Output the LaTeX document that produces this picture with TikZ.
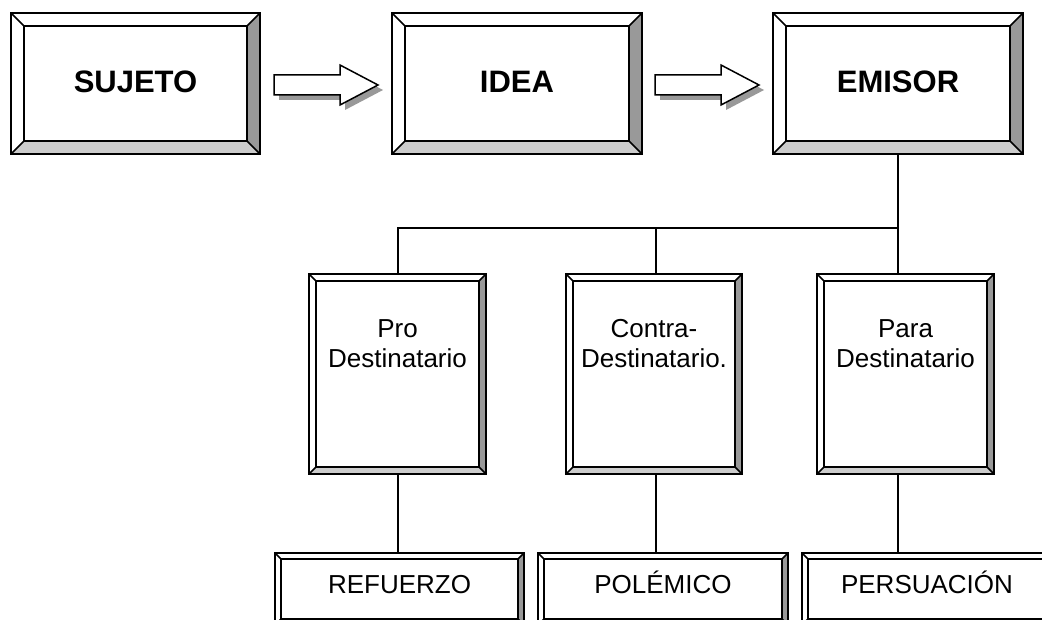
\documentclass[tikz,border=0pt]{standalone}
\usepackage{fontspec}
\setmainfont{Liberation Sans}
\usetikzlibrary{calc}
\definecolor{darkbev}{HTML}{999999}
\definecolor{lightbev}{HTML}{CCCCCC}
\tikzset{
  boxnode/.style={draw=none, inner sep=0pt, outer sep=0pt, rectangle},
  bevline/.style={line width=1.5pt, line join=miter},
  conn/.style={line width=2pt},
  toptext/.style={font=\bfseries\fontsize{31}{36}\selectfont, inner sep=0pt, anchor=base},
  midtext/.style={font=\fontsize{26}{30}\selectfont, align=center, inner sep=0pt, anchor=north},
  bottext/.style={font=\fontsize{26}{30}\selectfont, inner sep=0pt, anchor=base},
  arrowbody/.style={fill=white, draw=black, line width=1.5pt, line join=miter},
  arrowshadow/.style={fill=darkbev, draw=none},
}
% bevelled box drawn around a named node: #1 name, #2 bevel width
\newcommand{\bevdraw}[2]{%
  \fill[white] (#1.north west) rectangle (#1.south east);
  \fill[darkbev] (#1.north east) -- (#1.south east) -- ($(#1.south east)+(-#2,-#2)$) -- ($(#1.north east)+(-#2,#2)$) -- cycle;
  \fill[lightbev] (#1.south west) -- (#1.south east) -- ($(#1.south east)+(-#2,-#2)$) -- ($(#1.south west)+(#2,-#2)$) -- cycle;
  \draw[bevline] (#1.north west) rectangle (#1.south east);
  \draw[bevline] ($(#1.north west)+(#2,#2)$) rectangle ($(#1.south east)+(-#2,-#2)$);
  \draw[bevline] (#1.north west) -- ++(#2,#2) (#1.north east) -- ++(-#2,#2)
                 (#1.south west) -- ++(#2,-#2) (#1.south east) -- ++(-#2,-#2);
}
% block arrow between two named coordinates (#1 start, #2 tip), offset #3
\newcommand{\blockarrowpath}[3]{%
  ($(#1)+(0,-10)+(#3,#3)$) -- ($(#2)+(-38,-10)+(#3,#3)$) -- ($(#2)+(-38,-20)+(#3,#3)$) -- ($(#2)+(#3,#3)$) --
  ($(#2)+(-38,20)+(#3,#3)$) -- ($(#2)+(-38,10)+(#3,#3)$) -- ($(#1)+(0,10)+(#3,#3)$) -- cycle}
\begin{document}
\begin{tikzpicture}[x=1pt, y=-1pt]
\useasboundingbox[fill=white] (0,0) rectangle (1042,620);

% top boxes
\node[boxnode, minimum width=249pt, minimum height=141pt] (suj) at (135.5,83.5) {};
\node[boxnode, minimum width=250pt, minimum height=141pt] (idea) at (517,83.5) {};
\node[boxnode, minimum width=250pt, minimum height=141pt] (emi) at (898,83.5) {};
% middle boxes
\node[boxnode, minimum width=177pt, minimum height=200pt] (pro) at (397.5,374) {};
\node[boxnode, minimum width=176pt, minimum height=200pt] (con) at (654,374) {};
\node[boxnode, minimum width=177pt, minimum height=200pt] (par) at (905.5,374) {};
% bottom boxes
\node[boxnode, minimum width=249pt, minimum height=72pt] (ref) at (399.5,589) {};
\node[boxnode, minimum width=250pt, minimum height=72pt] (pol) at (663,589) {};
\node[boxnode, minimum width=250pt, minimum height=72pt] (per) at (927,589) {};

\coordinate (bus) at (898,228);
\coordinate (busl) at (398,228);
\coordinate (busm) at (656,228);

% connectors
\draw[conn] (emi.south) -- (bus);
\draw[conn] (bus) -- (bus |- par.north);
\draw[conn] (busl |- pro.north) -- (busl) -- (bus);
\draw[conn] (busm) -- (busm |- con.north);
\draw[conn] (busl |- pro.south) -- (busl |- ref.north);
\draw[conn] (busm |- con.south) -- (busm |- pol.north);
\draw[conn] (bus |- par.south) -- (bus |- per.north);

% bevelled boxes
\bevdraw{suj}{13}
\bevdraw{idea}{13}
\bevdraw{emi}{13}
\bevdraw{pro}{7}
\bevdraw{con}{7}
\bevdraw{par}{7}
\bevdraw{ref}{6}
\bevdraw{pol}{6}
\bevdraw{per}{6}

% block arrows
\coordinate (a1s) at ($(suj.east)+(14,1.5)$);
\coordinate (a1t) at ($(idea.west)+(-14,1.5)$);
\coordinate (a2s) at ($(idea.east)+(13,1.5)$);
\coordinate (a2t) at ($(emi.west)+(-14,1.5)$);
\fill[arrowshadow] \blockarrowpath{a1s}{a1t}{5};
\filldraw[arrowbody] \blockarrowpath{a1s}{a1t}{0};
\fill[arrowshadow] \blockarrowpath{a2s}{a2t}{5};
\filldraw[arrowbody] \blockarrowpath{a2s}{a2t}{0};

% texts
\node[toptext] (sujt) at ($(suj.center)+(0,9.5)$) {SUJETO};
\node[toptext] (ideat) at ($(idea.center)+(0,9.5)$) {IDEA};
\node[toptext] (emit) at ($(emi.center)+(0,9.5)$) {EMISOR};

\node[midtext] (prot) at (397.5,319.5) {Pro\\Destinatario};
\node[midtext] (cont) at (654,319.5) {Contra-\\Destinatario.};
\node[midtext] (part) at (905.5,319.5) {Para\\Destinatario};

\node[bottext] (reft) at (399.5,593) {REFUERZO};
\node[bottext] (polt) at (663,593) {POLÉMICO};
\node[bottext] (pert) at (927,593) {PERSUACIÓN};
\end{tikzpicture}
\end{document}
